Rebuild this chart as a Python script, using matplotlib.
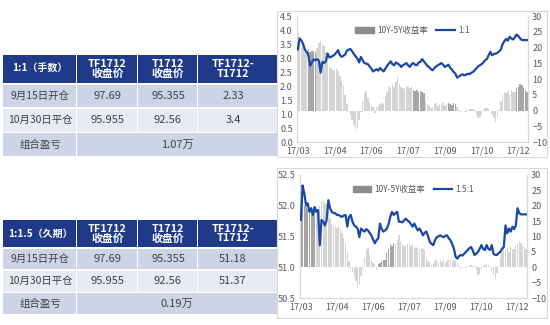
import matplotlib
matplotlib.use('Agg')
import matplotlib.pyplot as plt
from matplotlib.patches import Rectangle, Patch
from matplotlib.lines import Line2D
import numpy as np

plt.rcParams['font.family'] = ['Noto Sans CJK SC', 'DejaVu Sans']

# ---- 表格数据 ----
col_titles = ['TF1712\n收盘价', 'T1712\n收盘价', 'TF1712-\nT1712']
row_titles = ['9月15日开仓', '10月30日平仓', '组合盈亏']
table1_name = '1:1（手数）'
table1_rows = [['97.69', '95.355', '2.33'], ['95.955', '92.56', '3.4']]
table1_pnl = '1.07万'
table2_name = '1:1.5（久期）'
table2_rows = [['97.69', '95.355', '51.18'], ['95.955', '92.56', '51.37']]
table2_pnl = '0.19万'

# ---- 图表数据 ----
tick_labels = ['17/03', '17/04', '17/06', '17/07', '17/09', '17/10', '17/12']
bar_name = '10Y-5Y收益率'
line1_name = '1:1'
line2_name = '1.5:1'

spread_bp = [24.5, 22.0, 20.0, 21.0, 19.0, 18.0, 19.5, 18.5, 19.0, 18.8,
             18.6, 20.0, 21.5, 22.0, 21.0, 20.5, 18.5, 16.0, 14.0, 13.5,
             13.0, 12.8, 13.5, 12.5, 11.0, 9.5, 8.0, 5.0, 2.0, -0.5,
             -1.5, -3.0, -4.5, -5.8, -5.5, -3.0, -0.5, 3.0, 5.5, 6.2,
             4.0, 2.5, 1.5, 1.0, -0.8, 1.2, 1.5, 2.0, 2.5, 2.2,
             4.5, 6.0, 7.5, 7.0, 8.0, 7.5, 9.0, 10.5, 8.5, 7.5,
             7.0, 6.8, 7.5, 7.8, 7.0, 7.5, 6.5, 6.2, 6.5, 6.0,
             6.3, 6.0, 5.5, 3.0, 2.0, 1.5, 0.8, 1.2, 2.0, 2.5,
             1.5, 2.2, 1.8, 2.5, 1.5, 2.0, 2.5, 2.2, 1.8, 2.5,
             2.0, 1.0, 0.3, -0.5, -0.3, 0.0, -0.4, 0.2, 0.4, 0.6,
             0.5, 0.3, -1.0, -2.5, -2.2, -1.0, 0.3, 0.8, 0.9, 0.6,
             0.0, -1.2, -2.5, -3.8, -2.0, 0.3, 3.0, 5.0, 5.8, 5.5,
             6.2, 5.0, 6.5, 6.0, 5.8, 7.0, 7.5, 8.5, 8.0, 7.0,
             6.5, 6.0]

ratio_1_1 = [3.31, 3.70, 3.62, 3.50, 3.30, 3.22, 3.10, 2.72, 2.85, 2.95,
             2.92, 2.96, 2.90, 2.48, 2.86, 2.82, 2.88, 3.16, 3.02, 3.04,
             3.08, 3.12, 3.20, 3.28, 3.10, 3.04, 3.08, 3.12, 3.26, 3.30,
             3.32, 3.24, 3.14, 3.06, 2.98, 2.84, 3.04, 2.92, 2.82, 2.80,
             2.78, 2.70, 2.62, 2.52, 2.56, 2.60, 2.55, 2.64, 2.58, 2.52,
             2.62, 2.72, 2.80, 2.88, 2.78, 2.74, 2.84, 2.80, 2.76, 2.68,
             2.74, 2.78, 2.82, 2.74, 2.68, 2.78, 2.82, 2.76, 2.74, 2.84,
             2.86, 2.96, 2.88, 2.80, 2.72, 2.68, 2.60, 2.56, 2.64, 2.70,
             2.74, 2.78, 2.82, 2.76, 2.68, 2.72, 2.76, 2.66, 2.58, 2.50,
             2.44, 2.30, 2.34, 2.38, 2.42, 2.38, 2.40, 2.44, 2.42, 2.47,
             2.50, 2.56, 2.63, 2.70, 2.74, 2.78, 2.84, 2.92, 2.96, 3.10,
             3.22, 3.10, 3.14, 3.16, 3.18, 3.24, 3.30, 3.50, 3.60, 3.68,
             3.62, 3.76, 3.70, 3.66, 3.74, 3.84, 3.78, 3.70, 3.64, 3.64,
             3.64, 3.64]

ratio_15_1 = [51.77, 52.33, 52.20, 52.01, 52.04, 51.90, 51.96, 51.85, 51.98, 51.90,
              51.93, 51.36, 51.77, 51.74, 51.68, 51.77, 52.09, 51.96, 51.90, 51.88,
              51.88, 51.85, 51.85, 51.83, 51.82, 51.84, 51.85, 51.66, 51.82, 51.85,
              51.74, 51.68, 51.66, 51.63, 51.49, 51.63, 51.60, 51.58, 51.62, 51.60,
              51.56, 51.52, 51.45, 51.39, 51.44, 51.47, 51.71, 51.62, 51.58, 51.60,
              51.63, 51.70, 51.82, 51.90, 51.85, 51.88, 51.90, 51.74, 51.74, 51.73,
              51.76, 51.79, 51.76, 51.74, 51.70, 51.66, 51.71, 51.65, 51.60, 51.63,
              51.58, 51.52, 51.56, 51.58, 51.50, 51.41, 51.38, 51.36, 51.44, 51.49,
              51.50, 51.52, 51.50, 51.49, 51.51, 51.52, 51.47, 51.44, 51.38, 51.30,
              51.17, 51.14, 51.18, 51.20, 51.19, 51.22, 51.25, 51.28, 51.31, 51.33,
              51.27, 51.20, 51.22, 51.25, 51.30, 51.36, 51.30, 51.28, 51.36, 51.30,
              51.28, 51.36, 51.22, 51.20, 51.20, 51.23, 51.25, 51.30, 51.33, 51.68,
              51.55, 51.63, 51.58, 51.66, 51.62, 51.68, 51.96, 51.88, 51.86, 51.86,
              51.86, 51.86]

# 深色柱的区间（起, 止）
dark1 = [(6, 10), (66, 72), (86, 90), (125, 131)]
dark2 = [(0, 8), (45, 54)]

NAVY = '#1F3A88'
ROW_A = '#CDD4E6'
ROW_B = '#E8EBF4'
TXT = '#404040'
LIGHT = '#D4D4D4'
DARK = '#A6A6A6'
BLUE = '#1A48A6'

fig = plt.figure(figsize=(5.5, 3.25), dpi=100)
fig.patch.set_facecolor('white')

# 背景层：像素坐标
bg = fig.add_axes([0, 0, 1, 1])
bg.set_xlim(0, 550)
bg.set_ylim(325, 0)
bg.axis('off')


def draw_table(top, heights, name, rows, pnl):
    xs = [3, 77, 138, 198, 290]
    y = top
    # 表头
    h = heights[0]
    for j in range(4):
        bg.add_patch(Rectangle((xs[j], y), xs[j + 1] - xs[j] - 1.5, h, color=NAVY, lw=0))
    bg.text((xs[0] + xs[1]) / 2, y + h / 2, name, color='white', fontsize=7.2,
            fontweight='bold', ha='center', va='center')
    for j, t in enumerate(col_titles):
        cx = (xs[j + 1] + xs[j + 2]) / 2 if j < 2 else 233
        bg.text(cx, y + h / 2, t, color='white', fontsize=7.8, fontweight='bold',
                ha='center', va='center', linespacing=0.95)
    y += h + 2
    for i in range(3):
        h = heights[i + 1]
        fc = ROW_B if i == 1 else ROW_A
        bg.add_patch(Rectangle((xs[0], y), xs[1] - xs[0] - 1.5, h, color=fc, lw=0))
        bg.text((xs[0] + xs[1]) / 2, y + h / 2, row_titles[i], color=TXT, fontsize=7.5,
                ha='center', va='center')
        if i < 2:
            for j in range(3):
                bg.add_patch(Rectangle((xs[j + 1], y), xs[j + 2] - xs[j + 1] - 1.5, h,
                                       color=fc, lw=0))
                cx = (xs[j + 1] + xs[j + 2]) / 2 if j < 2 else 233
                bg.text(cx, y + h / 2, rows[i][j], color=TXT, fontsize=8,
                        ha='center', va='center')
        else:
            bg.add_patch(Rectangle((xs[1], y), xs[4] - xs[1], h, color=fc, lw=0))
            bg.text(177, y + h / 2, pnl, color=TXT, fontsize=8, ha='center', va='center')
        y += h + 1.5


draw_table(55, [28, 22, 23, 23], table1_name, table1_rows, table1_pnl)
draw_table(220, [27, 20, 21, 21], table2_name, table2_rows, table2_pnl)

# 图表白底边框
bg.add_patch(Rectangle((277, 11), 270, 146, facecolor='white', edgecolor='#D9D9D9', lw=0.8))
bg.add_patch(Rectangle((277, 168), 270, 150, facecolor='white', edgecolor='#D9D9D9', lw=0.8))

x = np.arange(len(spread_bp))
tick_pos = np.arange(0, len(spread_bp), 21)[:len(tick_labels)]


def draw_chart(rect, line, line_name, dark, ylim, yticks, yfmt):
    ax = fig.add_axes(rect)
    ax2 = ax.twinx()
    colors = [LIGHT] * len(spread_bp)
    for a, b in dark:
        for k in range(a, b + 1):
            colors[k] = DARK
    ax2.bar(x, spread_bp, width=0.75, color=colors, zorder=1)
    ax2.set_ylim(-10, 30)
    ax2.set_yticks(range(-10, 31, 5))
    ax.plot(x, line, color=BLUE, lw=1.6, zorder=3)
    ax.set_ylim(*ylim)
    ax.set_yticks(yticks)
    ax.set_yticklabels([yfmt.format(v) for v in yticks])
    ax.set_xlim(-0.5, len(spread_bp) - 0.5)
    ax.set_xticks(tick_pos)
    ax.set_xticklabels(tick_labels)
    # 折线在柱子上面
    ax.set_zorder(ax2.get_zorder() + 1)
    ax.patch.set_visible(False)
    for a_ in (ax, ax2):
        a_.tick_params(length=0, labelsize=6.5, colors='#595959', pad=3)
        for s in a_.spines.values():
            s.set_color('#D9D9D9')
            s.set_linewidth(0.8)
        a_.spines['top'].set_visible(False)
    handles = [Patch(color='#8C8C8C'), Line2D([], [], color=BLUE, lw=1.6)]
    ax.legend(handles, [bar_name, line_name], loc='upper center', bbox_to_anchor=(0.5, 0.98),
              ncol=2, frameon=False, fontsize=6, handlelength=2.2, handleheight=0.6,
              handletextpad=0.4, columnspacing=1.0, labelcolor='#595959')
    return ax


draw_chart([297 / 550, 1 - 142 / 325, 231 / 550, 126 / 325], ratio_1_1, line1_name, dark1,
           (0, 4.5), np.arange(0, 4.51, 0.5), '{:.1f}')
draw_chart([300 / 550, 1 - 298 / 325, 227 / 550, 123 / 325], ratio_15_1, line2_name, dark2,
           (50.5, 52.5), np.arange(50.5, 52.51, 0.5), '{:.1f}')

fig.savefig('out.png', dpi=100)
